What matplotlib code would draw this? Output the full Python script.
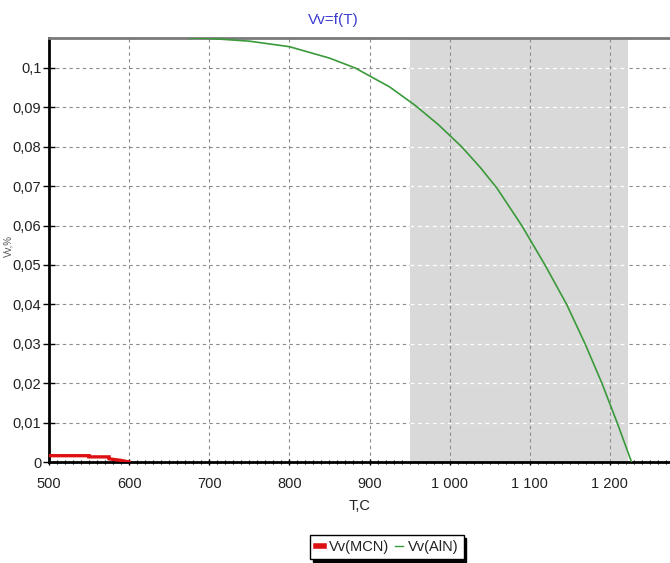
import matplotlib
matplotlib.use("Agg")
import matplotlib.pyplot as plt
from matplotlib.ticker import MultipleLocator, FuncFormatter
from matplotlib.lines import Line2D

plt.rcParams['font.family'] = ['Liberation Sans', 'DejaVu Sans']

# Data
T_aln = [675, 700, 750, 800, 850, 882, 925, 957, 986, 1015, 1038, 1059, 1090, 1119, 1146, 1169, 1190, 1209, 1227]
Vv_aln = [0.1076, 0.1075, 0.1068, 0.1054, 0.1025, 0.1000, 0.0952, 0.0905, 0.0856, 0.0800, 0.0748, 0.0695,
          0.0600, 0.0500, 0.0400, 0.0300, 0.0200, 0.0100, 0.0000]
T_mcn = [500, 550, 550, 575, 575, 590, 600]
Vv_mcn = [0.0016, 0.0016, 0.0013, 0.0013, 0.0008, 0.0004, 0.0]
span_T = [950, 1222]
x_ticks = [500, 600, 700, 800, 900, 1000, 1100, 1200]

fig = plt.figure(figsize=(6.70, 5.63), dpi=100)
ax = fig.add_axes([49/670, 101/563, 1 - 49/670, 424/563])
ax.set_xlim(500, 1275)
ax.set_ylim(0, 0.1076)

ax.set_axisbelow(True)
ax.axvspan(span_T[0], span_T[1], color='#d9d9d9', zorder=1, lw=0)

ax.xaxis.set_major_locator(MultipleLocator(100))
ax.xaxis.set_minor_locator(MultipleLocator(10))
ax.yaxis.set_major_locator(MultipleLocator(0.01))

ax.grid(True, which='major', color='#8c8c8c', linestyle=(0, (3, 3)), linewidth=0.8)

# grid lines inside the shaded band
yt = [v for v in ax.get_yticks() if 0 < v < 0.1076]
ax.hlines(yt, span_T[0], span_T[1], colors='white', linestyles=(0, (3, 3)), linewidth=0.9, zorder=1.2)
xt = [v for v in x_ticks if span_T[0] < v < span_T[1]]
ax.vlines(xt, 0, 0.1076, colors='#8c8c8c', linestyles=(0, (3, 3)), linewidth=0.8, zorder=1.2)

ax.plot(T_mcn, Vv_mcn, color='#dd1111', lw=2.4, zorder=3, solid_joinstyle='miter')
ax.plot(T_aln, Vv_aln, color='#3a9a3a', lw=1.2, zorder=3)

def yfmt(v, pos):
    s = f"{v:.2f}".rstrip('0').rstrip('.')
    return s.replace('.', ',')

def xfmt(v, pos):
    return f"{int(round(v)):,}".replace(',', ' ')

ax.yaxis.set_major_formatter(FuncFormatter(yfmt))
ax.xaxis.set_major_formatter(FuncFormatter(xfmt))
ax.set_xticks(x_ticks)

ax.tick_params(axis='x', which='major', direction='inout', length=5, width=1, labelsize=10.5, pad=8,
               labelcolor='#222222')
ax.tick_params(axis='x', which='minor', direction='inout', length=3, width=0.8)
ax.tick_params(axis='y', which='major', direction='inout', length=9, width=1, labelsize=10.5, pad=1,
               labelcolor='#222222')

for s in ['left', 'bottom']:
    ax.spines[s].set_color('black')
    ax.spines[s].set_linewidth(2)
ax.spines['top'].set_color('#7a7a7a')
ax.spines['top'].set_linewidth(2)
ax.spines['right'].set_visible(False)

ax.set_xlabel('T,C', fontsize=10.5, labelpad=6, color='#222222')
ax.set_ylabel('Vv,%', fontsize=7, color='#555555')
ax.yaxis.set_label_coords(-0.058, 0.51)

fig.text(333/670, 1 - 20/563, 'Vv=f(T)', color='#3c3cd0', fontsize=11, ha='center', va='center')

handles = [Line2D([], [], color='#dd1111', lw=4), Line2D([], [], color='#3a9a3a', lw=1)]
leg = fig.legend(handles, ['Vv(MCN)', 'Vv(AlN)'], loc='center', bbox_to_anchor=(387/670, 1 - 547/563),
                 ncol=2, frameon=True, fancybox=False, edgecolor='black', fontsize=10.5,
                 handlelength=0.6, handletextpad=0.3, columnspacing=0.4, borderpad=0.35,
                 shadow={'color': 'black', 'alpha': 1})
leg.get_frame().set_linewidth(1)
for t in leg.get_texts():
    t.set_color('#222222')

fig.savefig('out.png', dpi=100)
